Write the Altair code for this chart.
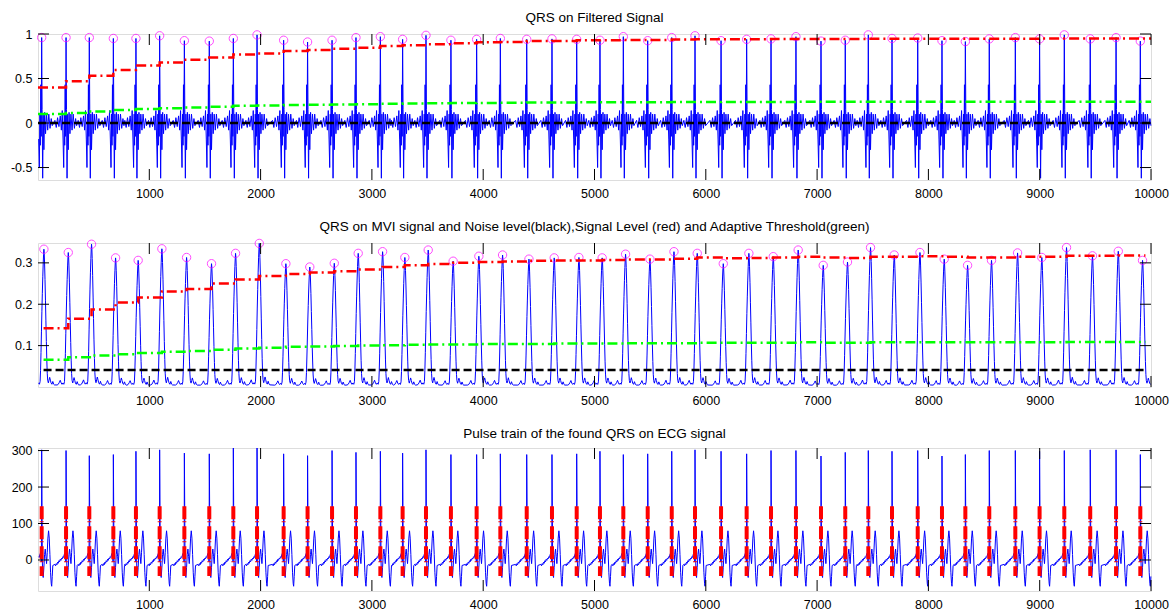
import altair as alt
import pandas as pd

TITLES = [
    "QRS on Filtered Signal",
    "QRS on MVI signal and Noise level(black),Signal Level (red) and Adaptive Threshold(green)",
    "Pulse train of the found QRS on ECG signal",
]

X_TICKS = [1000, 2000, 3000, 4000, 5000, 6000, 7000, 8000, 9000, 10000]
Y1_TICKS = [-0.5, 0, 0.5, 1]
Y2_TICKS = [0.1, 0.2, 0.3]
Y3_TICKS = [0, 100, 200, 300]

# detected R-peak sample indices
BEAT_POS = [33, 252, 461, 677, 880, 1093, 1315, 1539, 1755, 1968, 2207, 2422, 2642, 2857, 3076,
            3276, 3486, 3710, 3941, 4154, 4391, 4618, 4840, 5049, 5259, 5478, 5694, 5903, 6137, 6367, 6586,
            6810, 7035, 7253, 7460, 7673, 7904, 8122, 8332, 8547, 8781, 8999, 9221, 9454, 9686, 9904]

# amplitude of each detected QRS on the band-passed signal
FILT_PEAK = [0.96, 0.96, 0.96, 0.95, 0.95, 0.98, 0.925, 0.92, 0.95, 0.99, 0.93, 0.91, 0.93, 0.96, 0.97,
             0.94, 0.985, 0.93, 0.94, 0.95, 0.94, 0.945, 0.94, 0.93, 0.97, 0.925, 0.96, 0.98, 0.925, 0.94, 0.945,
             0.97, 0.92, 0.93, 0.99, 0.95, 0.955, 0.925, 0.915, 0.945, 0.96, 0.945, 0.99, 0.945, 0.96, 0.92]

# peak of the moving-window integrator output at each beat
MVI_PEAK = [0.333, 0.325, 0.345, 0.312, 0.306, 0.334, 0.313, 0.298, 0.323, 0.347, 0.298, 0.29, 0.299, 0.323, 0.327,
            0.313, 0.331, 0.304, 0.316, 0.319, 0.309, 0.312, 0.313, 0.312, 0.321, 0.309, 0.327, 0.323, 0.298, 0.323, 0.315,
            0.331, 0.294, 0.302, 0.337, 0.319, 0.325, 0.309, 0.294, 0.306, 0.324, 0.313, 0.337, 0.317, 0.328, 0.306]
MVI_DELAY = 20  # integrator lag in samples

# raw ECG R amplitude (mean removed)
ECG_R = [302, 300, 286, 289, 298, 302, 293, 291, 307, 307, 291, 286, 300, 295, 298,
         293, 302, 289, 289, 291, 289, 289, 291, 298, 289, 291, 298, 302, 298, 291, 300,
         300, 285, 295, 300, 298, 300, 285, 289, 300, 300, 298, 300, 302, 302, 289]

# adaptive levels after each beat update
FILT_SIG_LEVEL = [0.40, 0.47, 0.53, 0.595, 0.645, 0.68, 0.71, 0.735, 0.77, 0.78, 0.81, 0.82, 0.835, 0.845, 0.865,
                  0.873, 0.884, 0.896, 0.907, 0.91, 0.92, 0.921, 0.929, 0.93, 0.933, 0.934, 0.937, 0.94, 0.94, 0.941, 0.944,
                  0.944, 0.945, 0.945, 0.946, 0.946, 0.947, 0.947, 0.948, 0.948, 0.948, 0.949, 0.949, 0.95, 0.95, 0.95]
FILT_THRESHOLD = [0.10, 0.112, 0.13, 0.145, 0.157, 0.166, 0.175, 0.183, 0.193, 0.196, 0.203, 0.205, 0.209, 0.211, 0.216,
                  0.218, 0.221, 0.224, 0.226, 0.228, 0.23, 0.231, 0.232, 0.233, 0.234, 0.234, 0.235, 0.235, 0.236, 0.236, 0.237,
                  0.238, 0.238, 0.238, 0.239, 0.239, 0.239, 0.24, 0.24, 0.24, 0.24, 0.24, 0.24, 0.24, 0.24, 0.24]
FILT_NOISE_LEVEL = 0.0

MVI_SIG_LEVEL = [0.142, 0.165, 0.187, 0.204, 0.216, 0.231, 0.237, 0.25, 0.26, 0.268, 0.273, 0.277, 0.28, 0.284, 0.29,
                 0.294, 0.297, 0.30, 0.302, 0.303, 0.305, 0.306, 0.306, 0.307, 0.308, 0.308, 0.31, 0.313, 0.311, 0.312, 0.313,
                 0.315, 0.313, 0.312, 0.315, 0.315, 0.316, 0.315, 0.313, 0.313, 0.315, 0.315, 0.317, 0.317, 0.318, 0.318]
MVI_THRESHOLD = [0.066, 0.072, 0.076, 0.079, 0.082, 0.085, 0.087, 0.09, 0.093, 0.095, 0.097, 0.098, 0.099, 0.1, 0.101,
                 0.102, 0.103, 0.103, 0.104, 0.104, 0.104, 0.105, 0.105, 0.105, 0.106, 0.106, 0.106, 0.107, 0.107, 0.107, 0.107,
                 0.108, 0.107, 0.107, 0.108, 0.108, 0.108, 0.108, 0.108, 0.108, 0.108, 0.108, 0.109, 0.109, 0.109, 0.109]
MVI_NOISE_LEVEL = 0.041

PULSE_LOW = -44
PULSE_HIGH = 147

# per-beat waveform shapes as (offset from R in samples, value); offset 0 takes the beat's own peak
FILT_PRE = [(-100, 0.03), (-88, -0.05), (-76, 0.06), (-64, -0.04), (-52, 0.08), (-42, -0.08), (-34, 0.14),
            (-27, -0.18), (-21, -0.5), (-16, 0.1), (-12, -0.25), (-8, 0.43), (-4, -0.15)]
FILT_POST = [(0, None), (4, 0.15), (9, -0.62), (14, 0.1), (20, -0.3), (27, 0.12), (35, -0.12), (44, 0.1),
             (54, -0.08), (64, 0.1), (75, -0.06), (86, 0.05), (95, -0.03)]

# integrator shape as fraction of the beat peak
MVI_PRE = [(-100, 0.015), (-90, 0.02), (-80, 0.035), (-72, 0.05), (-64, 0.03), (-56, 0.02), (-48, 0.03),
           (-40, 0.02), (-34, 0.04), (-30, 0.12), (-26, 0.25), (-22, 0.4), (-18, 0.55), (-14, 0.68),
           (-10, 0.8), (-6, 0.9), (-3, 0.96)]
MVI_POST = [(0, 1.0), (3, 0.97), (6, 0.9), (10, 0.78), (14, 0.63), (18, 0.48), (22, 0.33), (26, 0.2),
            (30, 0.1), (34, 0.05), (40, 0.03), (46, 0.05), (52, 0.07), (58, 0.05), (64, 0.03), (72, 0.02),
            (80, 0.04), (88, 0.02), (95, 0.015)]

ECG_PRE = [(-100, -12), (-94, -16), (-88, -10), (-82, -13), (-76, -6), (-70, -9), (-64, -2), (-58, -5),
           (-52, 2), (-46, -1), (-40, 5), (-34, 3), (-28, 9), (-22, 7), (-17, 14), (-12, 18), (-8, 10),
           (-5, 20), (-3, -5), (-1, 80)]
ECG_POST = [(0, None), (3, 150), (6, 0), (9, -40), (14, -48), (20, -20), (26, 15), (32, 30), (38, 10),
            (44, -10), (50, 20), (56, 60), (62, 80), (68, 60), (74, 15), (80, -35), (86, -65), (90, -72),
            (95, -45), (100, -15)]

W = 1113
H1, H2, H3 = 146, 144, 143
FONT = "Liberation Sans"
BLUE, RED, GREEN, MAGENTA = "#0000ff", "#ff0000", "#00ff00", "#ff00ff"


def beat_train(centers, peaks, pre, post, scale_by_peak=False, start=0, end=10000):
    xs, ys = [], []
    post_len = post[-1][0]
    for i, (c, a) in enumerate(zip(centers, peaks)):
        lo = centers[i - 1] + post_len if i > 0 else start - 1
        for off, v in pre:
            x = c + off
            if x > lo and x >= start:
                xs.append(x)
                ys.append(v * a if scale_by_peak else v)
        for off, v in post:
            x = c + off
            if x <= end:
                xs.append(x)
                if scale_by_peak:
                    ys.append(v * a)
                else:
                    ys.append(a if v is None else v)
    return pd.DataFrame({"x": xs, "y": ys})


def level_steps(centers, values, start, end):
    xs = [start] + list(centers[1:]) + [end]
    ys = list(values) + [values[-1]]
    return pd.DataFrame({"x": xs, "y": ys})


XS = alt.Scale(domain=[0, 10000], nice=False, zero=False)
X_AXIS = alt.Axis(values=X_TICKS, labelExpr="toString(datum.value)", ticks=False, domain=False,
                  grid=False, title=None, labelFlush=False, labelOverlap=False, labelPadding=7,
                  labelFont=FONT, labelFontSize=12.5, labelColor="#000")


def y_axis(vals):
    return alt.Axis(values=vals, labelExpr="toString(datum.value)", ticks=False, domain=False,
                    grid=False, title=None, labelPadding=6, labelOverlap=False,
                    labelFont=FONT, labelFontSize=12.5, labelColor="#000")


def enc(field_x, field_y, ys, yaxis):
    return dict(x=alt.X(field_x, scale=XS, axis=X_AXIS), y=alt.Y(field_y, scale=ys, axis=yaxis))


def inner_ticks(yvals, ys, yaxis, h):
    tl = 11
    xt = pd.DataFrame({"t": X_TICKS})
    yt = pd.DataFrame({"t": yvals})
    xenc = alt.X("t:Q", scale=XS, axis=X_AXIS)
    yenc = alt.Y("t:Q", scale=ys, axis=yaxis)
    base_x = alt.Chart(xt).mark_rule(color="#000", strokeWidth=1)
    base_y = alt.Chart(yt).mark_rule(color="#000", strokeWidth=1)
    return [
        base_x.encode(x=xenc, y=alt.value(h - tl), y2=alt.value(h)),
        base_x.encode(x=xenc, y=alt.value(0), y2=alt.value(tl)),
        base_y.encode(y=yenc, x=alt.value(0), x2=alt.value(tl)),
        base_y.encode(y=yenc, x=alt.value(W - tl), x2=alt.value(W)),
    ]


def dashed_level(df, ys, yaxis, color, dash):
    return alt.Chart(df).mark_line(color=color, strokeWidth=2.5, strokeDash=dash,
                                   interpolate="step-after").encode(**enc("x:Q", "y:Q", ys, yaxis))


def title(text):
    return alt.TitleParams(text=text, font=FONT, fontSize=13.5, fontWeight="normal", color="#000",
                           offset=4, anchor="middle")


DASH_DOT = [10, 4, 2, 4]
DASHED = [8, 4]

# ---- panel 1: band-passed signal
ys1 = alt.Scale(domain=[-0.64, 1.0], nice=False, zero=False)
ya1 = y_axis(Y1_TICKS)
filt = beat_train(BEAT_POS, FILT_PEAK, FILT_PRE, FILT_POST)
p1_line = alt.Chart(filt).mark_line(color=BLUE, strokeWidth=1).encode(**enc("x:Q", "y:Q", ys1, ya1))
p1_pts = alt.Chart(pd.DataFrame({"x": BEAT_POS, "y": FILT_PEAK})).mark_point(
    shape="circle", filled=False, color=MAGENTA, size=70, strokeWidth=1).encode(**enc("x:Q", "y:Q", ys1, ya1))
p1_noise = dashed_level(level_steps(BEAT_POS, [FILT_NOISE_LEVEL] * len(BEAT_POS), 0, 10000), ys1, ya1, "#000", DASHED)
p1_sig = dashed_level(level_steps(BEAT_POS, FILT_SIG_LEVEL, 0, 10000), ys1, ya1, RED, DASH_DOT)
p1_thr = dashed_level(level_steps(BEAT_POS, FILT_THRESHOLD, 0, 10000), ys1, ya1, GREEN, DASH_DOT)
panel1 = alt.layer(p1_line, p1_pts, p1_noise, p1_sig, p1_thr, *inner_ticks(Y1_TICKS, ys1, ya1, H1)).properties(
    width=W, height=H1, title=title(TITLES[0]))

# ---- panel 2: moving-window integrator
ys2 = alt.Scale(domain=[0, 0.348], nice=False, zero=False)
ya2 = y_axis(Y2_TICKS)
mvi_pos = [p + MVI_DELAY for p in BEAT_POS]
mvi = beat_train(mvi_pos, MVI_PEAK, MVI_PRE, MVI_POST, scale_by_peak=True)
p2_line = alt.Chart(mvi).mark_line(color=BLUE, strokeWidth=1).encode(**enc("x:Q", "y:Q", ys2, ya2))
p2_pts = alt.Chart(pd.DataFrame({"x": mvi_pos, "y": MVI_PEAK})).mark_point(
    shape="circle", filled=False, color=MAGENTA, size=70, strokeWidth=1).encode(**enc("x:Q", "y:Q", ys2, ya2))
p2_noise = dashed_level(level_steps(mvi_pos, [MVI_NOISE_LEVEL] * len(mvi_pos), 50, 9950), ys2, ya2, "#000", DASHED)
p2_sig = dashed_level(level_steps(mvi_pos, MVI_SIG_LEVEL, 50, 9950), ys2, ya2, RED, DASH_DOT)
p2_thr = dashed_level(level_steps(mvi_pos, MVI_THRESHOLD, 50, 9950), ys2, ya2, GREEN, DASH_DOT)
panel2 = alt.layer(p2_line, p2_pts, p2_noise, p2_sig, p2_thr, *inner_ticks(Y2_TICKS, ys2, ya2, H2)).properties(
    width=W, height=H2, title=title(TITLES[1]))

# ---- panel 3: raw ECG with the QRS pulse train
ys3 = alt.Scale(domain=[-85, 307], nice=False, zero=False)
ya3 = y_axis(Y3_TICKS)
ecg = beat_train(BEAT_POS, ECG_R, ECG_PRE, ECG_POST)
p3_line = alt.Chart(ecg).mark_line(color=BLUE, strokeWidth=1).encode(**enc("x:Q", "y:Q", ys3, ya3))
pulses = pd.DataFrame({"x": BEAT_POS, "hi": [PULSE_HIGH] * len(BEAT_POS), "lo": [PULSE_LOW] * len(BEAT_POS)})
p3_pulse = alt.Chart(pulses).mark_rule(color=RED, strokeWidth=4, strokeDash=[13, 2, 1, 4]).encode(
    **enc("x:Q", "hi:Q", ys3, ya3), y2="lo:Q")
panel3 = alt.layer(p3_line, p3_pulse, *inner_ticks(Y3_TICKS, ys3, ya3, H3)).properties(
    width=W, height=H3, title=title(TITLES[2]))

chart = alt.vconcat(panel1, panel2, panel3, spacing=19).properties(
    padding={"left": 9, "top": 10, "right": 5, "bottom": 2}
).configure_view(stroke="#000", strokeWidth=1).configure(background="white")

chart.save("out.html", embed_options={"renderer": "svg", "actions": False})
